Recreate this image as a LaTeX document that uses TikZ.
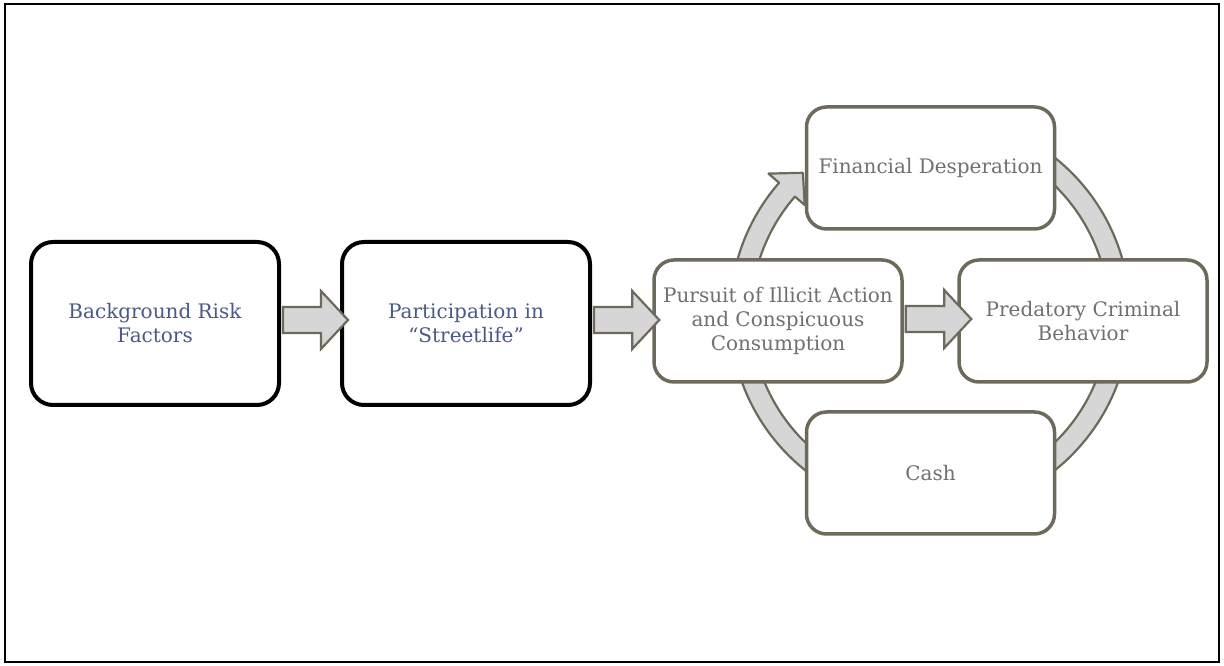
\documentclass[tikz,border=0pt]{standalone}
\usepackage{fontspec}
\setmainfont{DejaVu Serif}
\usetikzlibrary{calc}
\definecolor{edgeg}{HTML}{6E6A5B}
\definecolor{fillg}{HTML}{D6D6D6}
\definecolor{txtblue}{HTML}{4A5A85}
\definecolor{txtgray}{HTML}{707070}
\tikzset{
  basebox/.style={fill=white, align=center, inner sep=0pt,
    font=\fontsize{20}{24}\selectfont},
  leftbox/.style={basebox, draw=black, line width=4pt, rounded corners=22pt,
    minimum width=248pt, minimum height=163pt, text=txtblue},
  rightbox/.style={basebox, draw=edgeg, line width=3.5pt, rounded corners=20pt,
    minimum width=248pt, minimum height=122pt, text=txtgray},
  ringarrow/.style={draw=edgeg, fill=fillg, line width=2.2pt, line join=round},
  blockarrow/.style={draw=edgeg, fill=fillg, line width=2.2pt, line join=miter,
    to path={let \p1=(\tikztostart), \p2=(\tikztotarget) in
      (\x1,\y1+13pt) -- (\x2-27pt,\y1+13pt) -- (\x2-27pt,\y1+29pt) -- (\x2,\y1)
      -- (\x2-27pt,\y1-29pt) -- (\x2-27pt,\y1-13pt) -- (\x1,\y1-13pt) -- cycle}},
  frameline/.style={draw=black, line width=2pt}
}
\begin{document}
\begin{tikzpicture}[x=1pt,y=1pt]
\useasboundingbox (0,0) rectangle (1224,666);
\draw[frameline] (5,4) rectangle (1219,662);

% cycle ring (behind the boxes)
\begin{scope}[shift={(930,352)}]
\draw[ringarrow] (139:200) arc[start angle=139,end angle=480,radius=200]
  -- (480:179) arc[start angle=480,end angle=139,radius=179]
  -- (139:166) -- (132:190) -- (139:214) -- cycle;
\end{scope}

% boxes
\node[leftbox] (b1) at (155,342.5) {Background Risk\\Factors};
\node[leftbox] (b2) at (466,342.5) {Participation in\\``Streetlife''};
\node[rightbox] (pursuit) at (778,345) {Pursuit of Illicit Action\\and Conspicuous\\Consumption};
\node[rightbox] (pred) at (1083,345) {Predatory Criminal\\Behavior};
\node[rightbox] (fin) at (930.5,498) {Financial Desperation};
\node[rightbox] (cash) at (930.5,193) {Cash};

% block arrows
\draw[blockarrow] ([xshift=2pt,yshift=3.5pt]b1.east) to ([xshift=8pt,yshift=3.5pt]b2.west);
\draw[blockarrow] ([xshift=2pt,yshift=3.5pt]b2.east) to ([xshift=7pt,yshift=3.5pt]pursuit.west);
\draw[blockarrow] ([xshift=2pt,yshift=2pt]pursuit.east) to ([xshift=14pt,yshift=2pt]pred.west);
\end{tikzpicture}
\end{document}
